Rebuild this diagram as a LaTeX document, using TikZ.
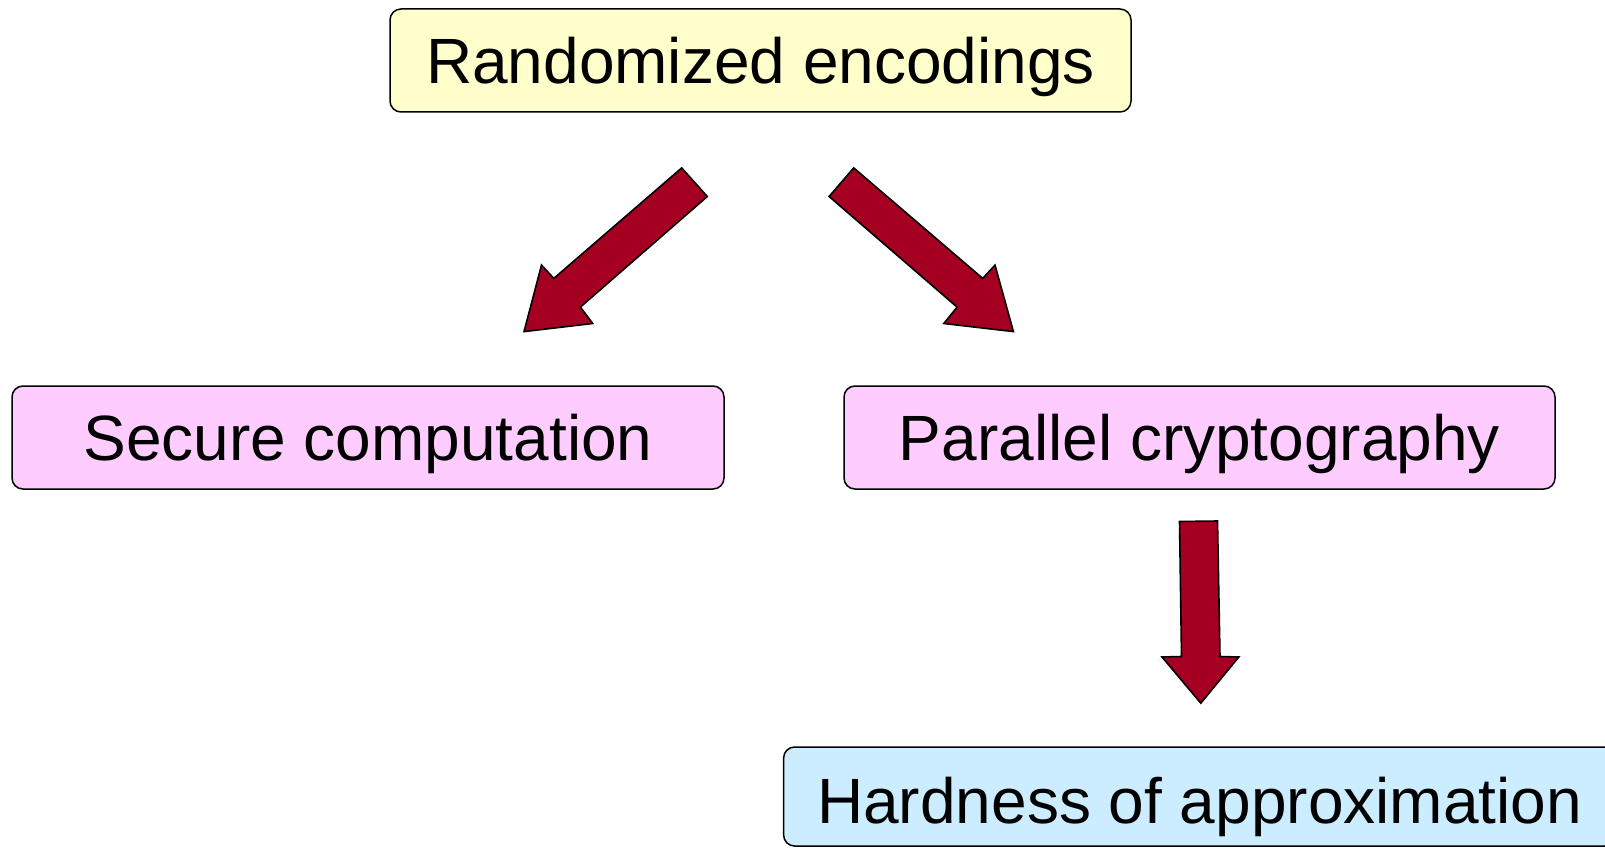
\documentclass[tikz,border=0pt]{standalone}
\usepackage{fontspec}
\setmainfont{Liberation Sans}
\definecolor{arrowred}{HTML}{A50021}
\definecolor{boxyellow}{HTML}{FFFFCC}
\definecolor{boxpink}{HTML}{FFCCFF}
\definecolor{boxblue}{HTML}{CCECFF}
\tikzset{
  topic/.style={draw=black, line width=1.5pt, rounded corners=11pt,
    inner sep=0pt, text height=45.8pt, text depth=0pt,
    font=\fontsize{64}{70}\selectfont, minimum height=103pt},
  blockarrow/.style={draw=black, fill=arrowred, line width=1.6pt, line join=miter}
}
\begin{document}
\begin{tikzpicture}[x=1pt,y=-1pt]
  \useasboundingbox (0,0) rectangle (1605,848);
  \clip (0,0) rectangle (1605,848);

  % topic boxes
  \node[topic, fill=boxyellow, minimum width=741pt] (enc) at (760.5,60.5) {Randomized encodings};
  \node[topic, fill=boxpink, minimum width=712pt] (sec) at (368,437.5) {Secure computation};
  \node[topic, fill=boxpink, minimum width=711pt] (par) at (1199.5,437.5) {Parallel cryptography};
  \node[topic, fill=boxblue, minimum width=832pt, minimum height=99pt,
        text height=54.8pt] (hard) at (1199.6,796.5) {Hardness of approximation};

  % block arrows
  \draw[blockarrow] (681.7,167.9) -- (707.3,196.5) -- (580.4,307.1) -- (592.7,323.5)
    -- (524,331.6) -- (541.5,265.1) -- (553.8,278.4) -- cycle;
  \draw[blockarrow] (853.7,167.9) -- (829.1,196.5) -- (957.1,307.1) -- (943.8,323.5)
    -- (1013.4,331.6) -- (995,265.1) -- (982.7,278.4) -- cycle;
  \draw[blockarrow] (1179.5,521.5) -- (1217.5,521) -- (1220,656.5) -- (1238.8,657)
    -- (1200.8,703.2) -- (1162,657) -- (1181.5,656.5) -- cycle;
\end{tikzpicture}
\end{document}
